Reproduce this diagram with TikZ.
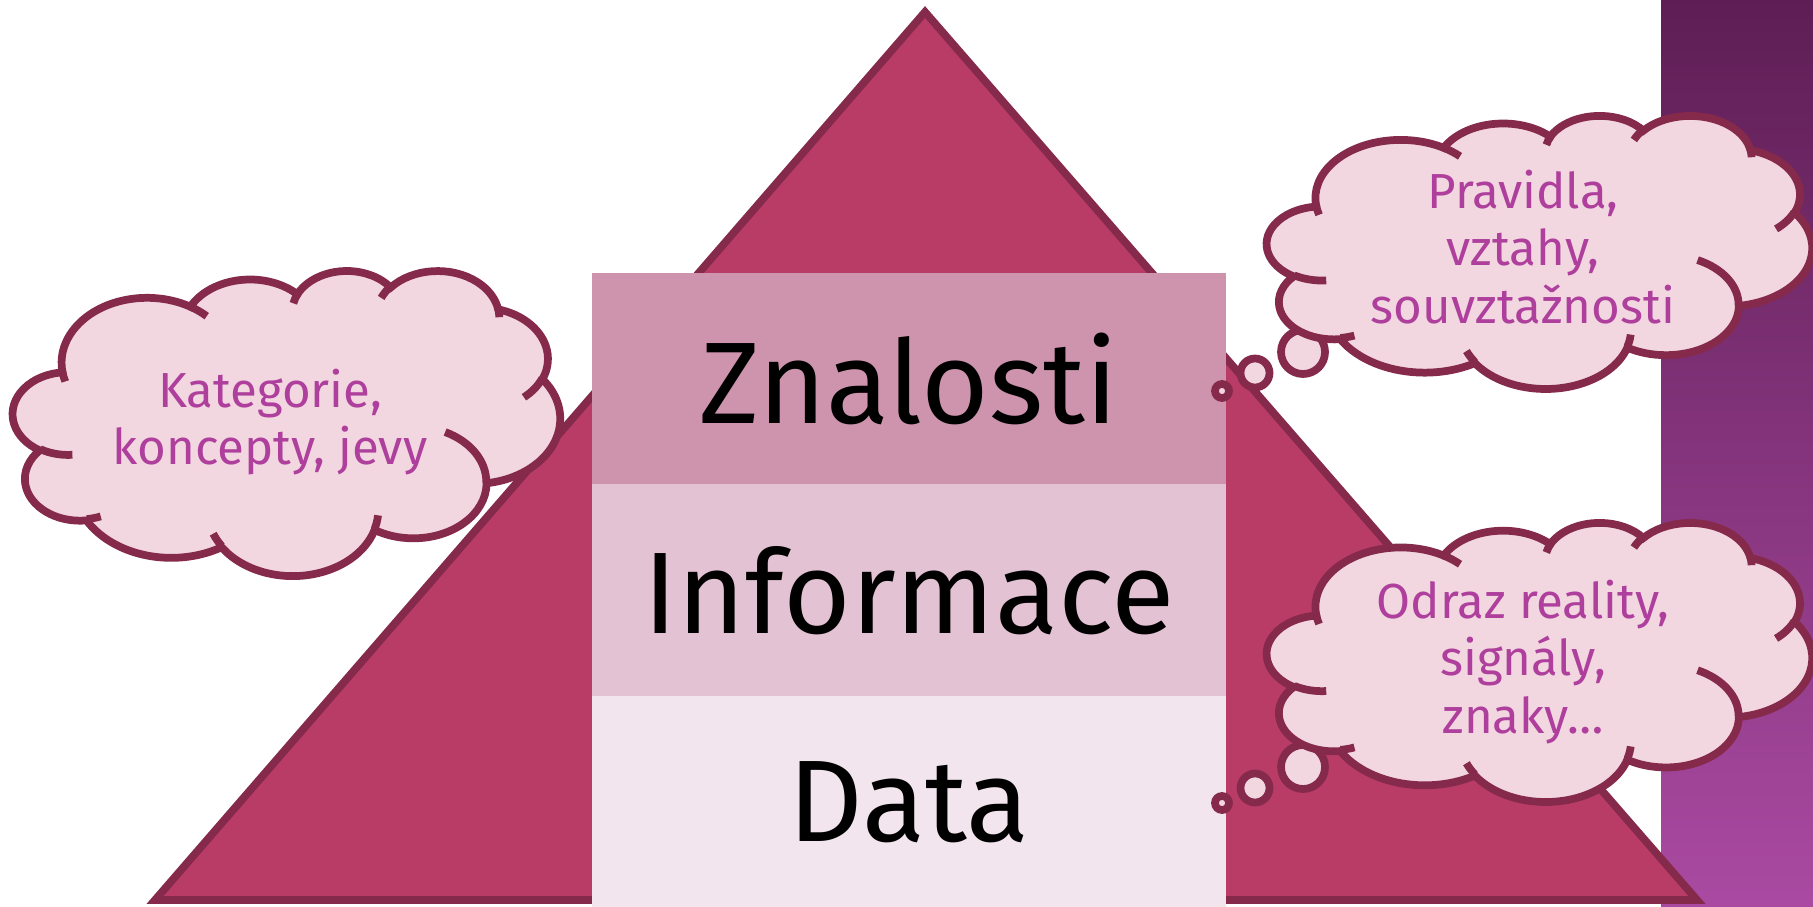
\documentclass[tikz,border=0pt]{standalone}
\usepackage{fontspec}
\setmainfont{Fira Sans}
\usetikzlibrary{positioning}

\definecolor{pyramid}{HTML}{B93C67}
\definecolor{edge}{HTML}{862A4B}
\definecolor{layerA}{HTML}{CE94AE}
\definecolor{layerB}{HTML}{E3C2D3}
\definecolor{layerC}{HTML}{F3E5ED}
\definecolor{cloudfill}{HTML}{F2D6E0}
\definecolor{cloudtxt}{HTML}{AE3F9C}
\definecolor{stripTop}{HTML}{5E1E55}
\definecolor{stripBot}{HTML}{AA4AA2}

% visual angle of a puff -> parametric angle of its ellipse
\pgfmathdeclarefunction{vispar}{3}{%
  \begingroup
  \pgfmathsetmacro\parang{atan2(#1*sin(#3),#2*cos(#3))}%
  \pgfmathparse{\parang+360*round((#3-\parang)/360)}%
  \pgfmathsmuggle\pgfmathresult
  \endgroup}

% one puff of the cloud: x radius, y radius, start angle, sweep
\newcommand{\puff}[4]{arc[x radius=#1, y radius=#2, start angle={vispar(#1,#2,#3)}, end angle={vispar(#1,#2,#3+#4)}]}

% cloud in a 432 x 432 box: left, top, width, height
\newcommand{\drawcloud}[4]{%
  \begin{scope}[shift={(#1,#2)}, xscale=#3/432, yscale=#4/432]
    \filldraw[cloudline, fill=cloudfill] (39,143.7)
      \puff{67.53}{91.90}{-190.4875}{123.7805}
      \puff{53.33}{72.67}{-144.1024}{89.9452}
      \puff{43.65}{59.45}{-145.8079}{99.7230}
      \puff{48.57}{65.95}{-130.9861}{117.2417}
      \puff{53.33}{72.73}{-78.7089}{109.0269}
      \puff{67.75}{92.20}{-46.2673}{130.2690}
      \puff{57.85}{78.67}{0.6250}{114.0333}
      \puff{67.52}{92.15}{22.4516}{115.1726}
      \puff{77.20}{105.43}{66.2426}{75.7110}
      \puff{43.60}{59.18}{-274.9421}{146.7356}
      \puff{43.45}{59.45}{-246.8285}{152.5189} -- cycle;
    % inner strokes
    \draw[cloudline] (46.93,261.77) \puff{43.45}{59.45}{86.7420}{26.4295};
    \draw[cloudline] (69.28,348.99) \puff{43.60}{59.18}{73.6105}{11.4475};
    \draw[cloudline] (164.78,390.90) \puff{67.52}{92.15}{137.6242}{14.0811};
    \draw[cloudline] (288.27,347.51) \puff{67.52}{92.15}{6.4533}{15.9984};
    \draw[cloudline] (341.29,229.54) \puff{57.85}{78.67}{-70.2924}{70.9174};
    \draw[cloudline] (417.98,153.54) \puff{53.33}{72.73}{30.3180}{27.7515};
    \draw[cloudline] (383.24,54.26) \puff{48.57}{65.95}{-13.7443}{14.8589};
    \draw[cloudline] (290.78,39.52) \puff{48.57}{65.95}{-149.1815}{18.1954};
    \draw[cloudline] (221.41,47.20) \puff{43.65}{59.45}{-163.4943}{17.6864};
    \draw[cloudline] (140.00,51.92) \puff{67.53}{91.90}{-66.7070}{12.3194};
    \draw[cloudline] (41.27,157.89) \puff{67.53}{91.90}{157.6544}{11.8582};
  \end{scope}}

\begin{document}
\begin{tikzpicture}[x=0.01cm, y=-0.01cm,
    cloudline/.style={draw=edge, line width=2.2pt},
    layer/.style={minimum width=6.34cm, minimum height=2.12cm, inner sep=0pt,
      font=\fontsize{33}{40}\selectfont},
    cloudtext/.style={align=center, text=cloudtxt, inner sep=0pt,
      font=\fontsize{14}{16.4}\selectfont}]

    \useasboundingbox (0,0) rectangle (1813,907);

    % side strip
    \shade[top color=stripTop, bottom color=stripBot] (1661,0) rectangle (1813,907);

    % pyramid
    \coordinate (apex) at (925,12);
    \coordinate (bl) at (155,900);
    \coordinate (br) at (1697,900);
    \filldraw[fill=pyramid, draw=edge, line width=2.2pt] (apex) -- (bl) -- (br) -- cycle;

    % layers
    \node[layer, fill=layerA] (zn) at (909,379) {Znalosti};
    \node[layer, fill=layerB, below=-0.6pt of zn] (inf) {Informace};
    \node[layer, fill=layerC, below=-0.6pt of inf] (dat) {Data};

    % thought bubbles
    \draw[cloudline, fill=cloudfill] (1303,352) circle[radius=22];
    \draw[cloudline, fill=cloudfill] (1255,373) circle[radius=14.5];
    \draw[cloudline, fill=cloudfill] (1222,391) circle[radius=7];
    \draw[cloudline, fill=cloudfill] (1303,767) circle[radius=22];
    \draw[cloudline, fill=cloudfill] (1255,788) circle[radius=14.5];
    \draw[cloudline, fill=cloudfill] (1222,803) circle[radius=7];

    % clouds
    \drawcloud{13}{270}{547}{305}
    \drawcloud{1267}{115}{545}{273}
    \drawcloud{1267}{522}{545}{279}

    \node[cloudtext] (kat) at (270,422) {Kategorie,\\koncepty, jevy};
    \node[cloudtext] (prav) at (1523,247) {Pravidla,\\vztahy,\\souvztažnosti};
    \node[cloudtext] (odraz) at (1523,662) {Odraz reality,\\signály,\\znaky…};

\end{tikzpicture}
\end{document}
